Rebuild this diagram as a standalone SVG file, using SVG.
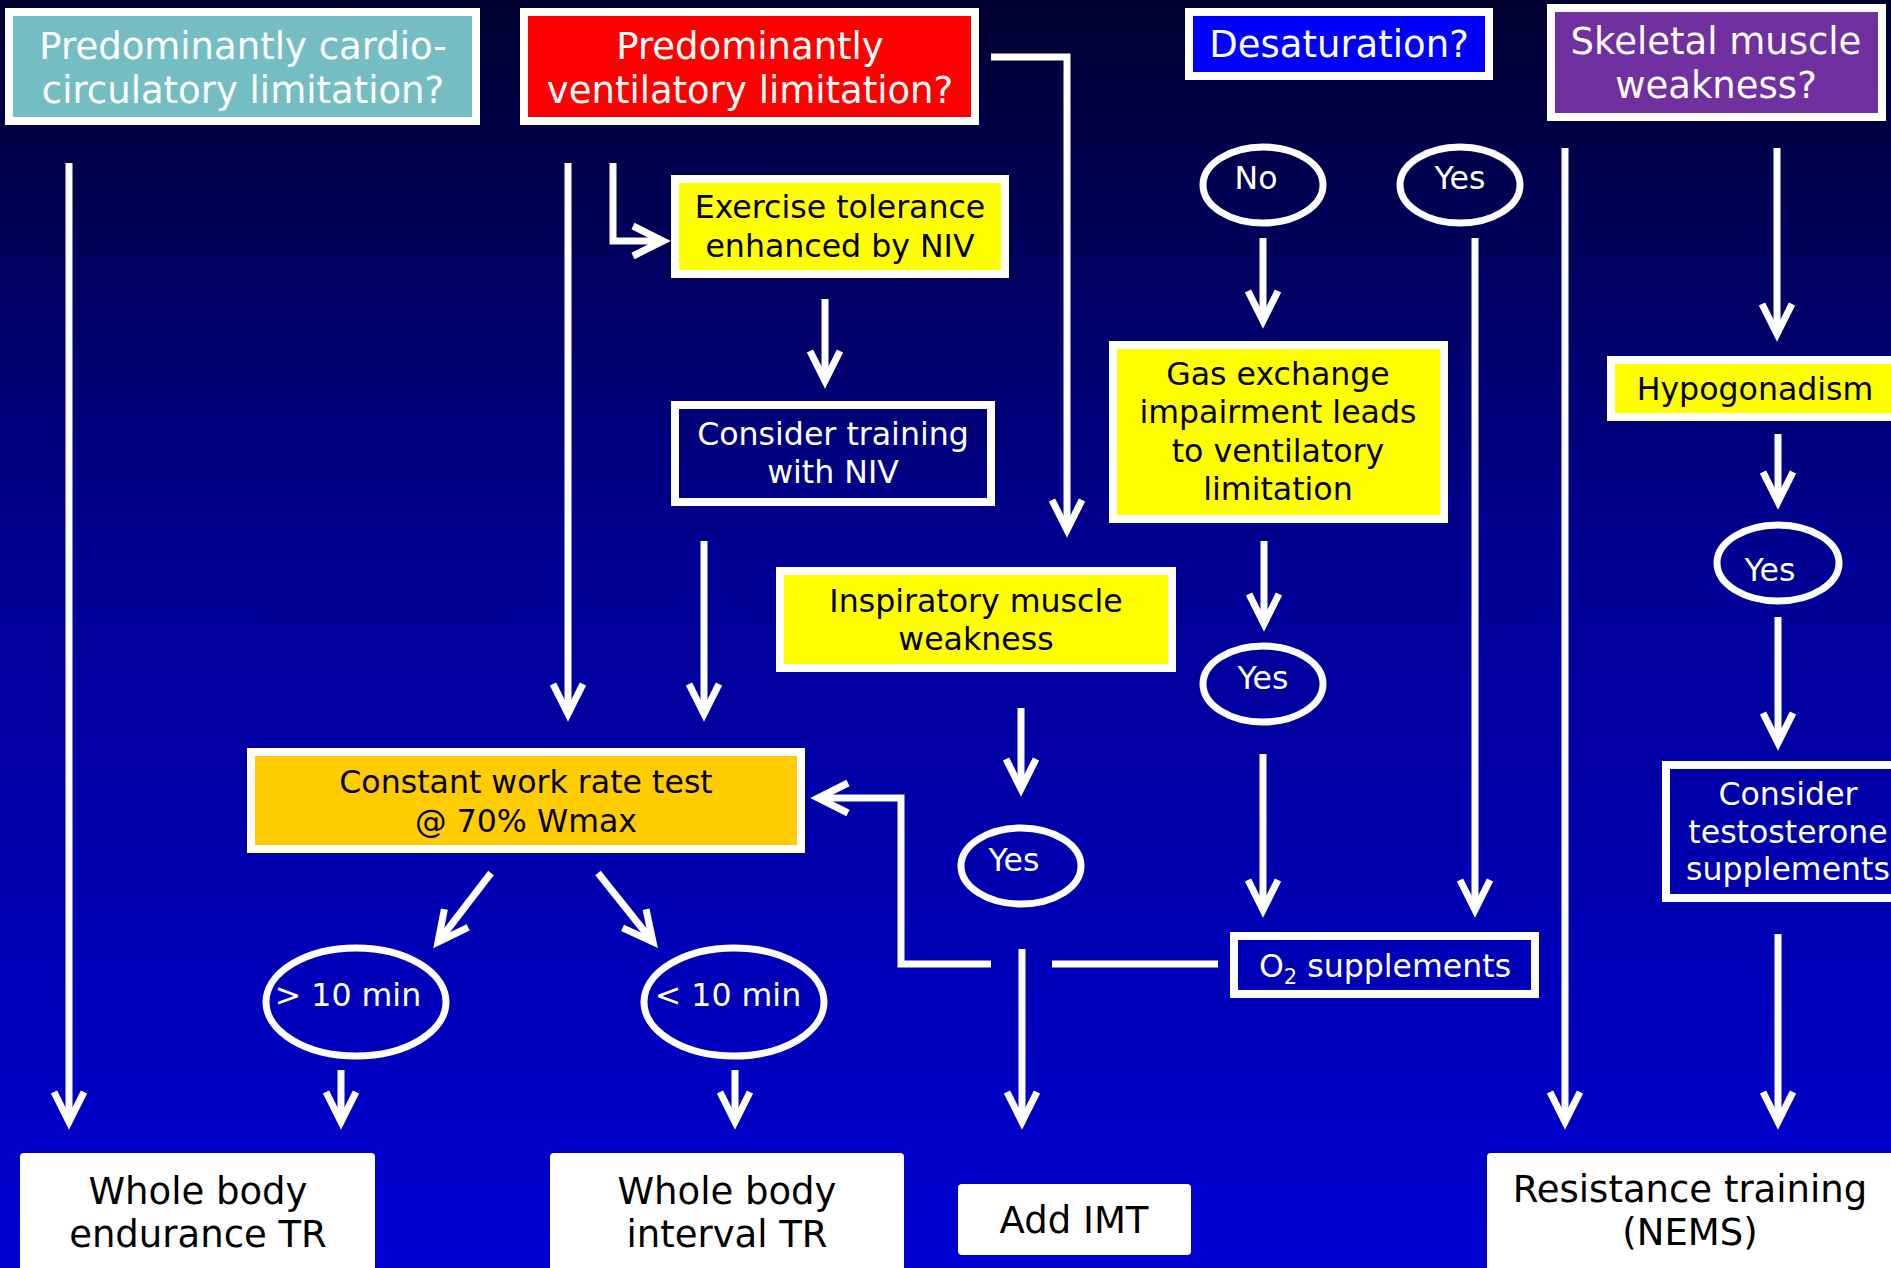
<svg xmlns="http://www.w3.org/2000/svg" width="1891" height="1268" viewBox="0 0 1891 1268">
<defs>
<linearGradient id="bg" x1="0" y1="0" x2="0" y2="1">
<stop offset="0" stop-color="#000030"/>
<stop offset="0.45" stop-color="#000095"/>
<stop offset="1" stop-color="#0000d2"/>
</linearGradient>
<marker id="ah" markerUnits="userSpaceOnUse" orient="auto" overflow="visible" markerWidth="40" markerHeight="40" refX="0" refY="0">
<path d="M-30,-15 L0,0 L-30,15" fill="none" stroke="#fff" stroke-width="7" stroke-linejoin="miter" stroke-miterlimit="10"/>
</marker>
<style>
.box{stroke:#fff;stroke-width:8}
.ell{fill:none;stroke:#fff;stroke-width:7}
.t{font-family:"DejaVu Sans",Verdana,sans-serif;text-anchor:middle}
.h{font-size:37px;fill:#fff}
.s{font-size:31.6px}
.w{fill:#fff}
.k{fill:#000}
.b{font-size:37px;fill:#000}
.c{fill:none;stroke:#fff;stroke-width:7}
.a{marker-end:url(#ah)}
</style>
</defs>
<rect x="0" y="0" width="1891" height="1268" fill="url(#bg)"/>

<g id="connectors">
<line class="c a" x1="69" y1="163" x2="69" y2="1122"/>
<line class="c a" x1="568" y1="163" x2="568" y2="714"/>
<path class="c a" d="M613,163 V241 H663"/>
<path class="c a" d="M991,57 H1067 V530"/>
<line class="c a" x1="825" y1="299" x2="825" y2="381"/>
<line class="c a" x1="704" y1="541" x2="704" y2="714"/>
<line class="c a" x1="1021" y1="708" x2="1021" y2="789"/>
<line class="c a" x1="1022" y1="949" x2="1022" y2="1122"/>
<path class="c a" d="M1218,964 H1052 M991,964 H901 V798 H818"/>
<line class="c a" x1="1263" y1="238" x2="1263" y2="321"/>
<line class="c a" x1="1264" y1="541" x2="1264" y2="624"/>
<line class="c a" x1="1263" y1="754" x2="1263" y2="910"/>
<line class="c a" x1="1475" y1="238" x2="1475" y2="910"/>
<line class="c a" x1="1565" y1="148" x2="1565" y2="1122"/>
<line class="c a" x1="1777" y1="148" x2="1777" y2="334"/>
<line class="c a" x1="1778" y1="434" x2="1778" y2="502"/>
<line class="c a" x1="1778" y1="617" x2="1778" y2="743"/>
<line class="c a" x1="1778" y1="934" x2="1778" y2="1122"/>
<line class="c a" x1="491" y1="873" x2="438" y2="942"/>
<line class="c a" x1="598" y1="873" x2="653" y2="942"/>
<line class="c a" x1="341" y1="1070" x2="341" y2="1122"/>
<line class="c a" x1="735" y1="1070" x2="735" y2="1122"/>
</g>

<g id="n-cardio">
<rect class="box" x="9" y="12" width="467" height="109" fill="#74BEC3"/>
<text class="t h" x="243" y="59">Predominantly cardio-</text>
<text class="t h" x="243" y="103">circulatory limitation?</text>
</g>
<g id="n-vent">
<rect class="box" x="524" y="12" width="451" height="109" fill="#FF0000"/>
<text class="t h" x="750" y="59">Predominantly</text>
<text class="t h" x="750" y="103">ventilatory limitation?</text>
</g>
<g id="n-desat">
<rect class="box" x="1189" y="12" width="300" height="64" fill="#0000FF"/>
<text class="t h" x="1339" y="57">Desaturation?</text>
</g>
<g id="n-skeletal">
<rect class="box" x="1551" y="8" width="331" height="109" fill="#7030A0"/>
<text class="t h" x="1716" y="54">Skeletal muscle</text>
<text class="t h" x="1716" y="98">weakness?</text>
</g>
<g id="n-extol">
<rect class="box" x="675" y="179" width="330" height="95" fill="#FFFF00"/>
<text class="t s k" x="840" y="218">Exercise tolerance</text>
<text class="t s k" x="840" y="257">enhanced by NIV</text>
</g>
<g id="n-niv">
<rect class="box" x="675" y="405" width="316" height="97" fill="none"/>
<text class="t s w" x="833" y="445">Consider training</text>
<text class="t s w" x="833" y="483">with NIV</text>
</g>
<g id="n-no">
<ellipse class="ell" cx="1263" cy="185" rx="60" ry="38"/>
<text class="t s w" x="1256" y="189">No</text>
</g>
<g id="n-yes1">
<ellipse class="ell" cx="1460" cy="185" rx="60" ry="38"/>
<text class="t s w" x="1460" y="189">Yes</text>
</g>
<g id="n-gas">
<rect class="box" x="1113" y="345" width="331" height="174" fill="#FFFF00"/>
<text class="t s k" x="1278" y="385">Gas exchange</text>
<text class="t s k" x="1278" y="423">impairment leads</text>
<text class="t s k" x="1278" y="462">to ventilatory</text>
<text class="t s k" x="1278" y="500">limitation</text>
</g>
<g id="n-insp">
<rect class="box" x="780" y="571" width="392" height="97" fill="#FFFF00"/>
<text class="t s k" x="976" y="612">Inspiratory muscle</text>
<text class="t s k" x="976" y="650">weakness</text>
</g>
<g id="n-yes2">
<ellipse class="ell" cx="1263" cy="684" rx="60" ry="38"/>
<text class="t s w" x="1263" y="689">Yes</text>
</g>
<g id="n-yes3">
<ellipse class="ell" cx="1021" cy="866" rx="60" ry="38"/>
<text class="t s w" x="1014" y="871">Yes</text>
</g>
<g id="n-hypo">
<rect class="box" x="1611" y="360" width="292" height="57" fill="#FFFF00"/>
<text class="t s k" x="1755" y="400">Hypogonadism</text>
</g>
<g id="n-yes4">
<ellipse class="ell" cx="1778" cy="563" rx="61" ry="38"/>
<text class="t s w" x="1770" y="581">Yes</text>
</g>
<g id="n-testo">
<rect class="box" x="1666" y="765" width="246" height="133" fill="none"/>
<text class="t s w" x="1788" y="805">Consider</text>
<text class="t s w" x="1788" y="843">testosterone</text>
<text class="t s w" x="1788" y="880">supplements</text>
</g>
<g id="n-const">
<rect class="box" x="251" y="752" width="550" height="97" fill="#FFCC00"/>
<text class="t s k" x="526" y="793">Constant work rate test</text>
<text class="t s k" x="526" y="832">@ 70% Wmax</text>
</g>
<g id="n-o2">
<rect class="box" x="1234" y="936" width="301" height="58" fill="none"/>
<text class="t s w" x="1385" y="977">O<tspan font-size="21" dy="7">2</tspan><tspan dy="-7"> supplements</tspan></text>
</g>
<g id="n-gt10">
<ellipse class="ell" cx="356" cy="1002" rx="90" ry="54"/>
<text class="t s w" x="348" y="1006">&gt; 10 min</text>
</g>
<g id="n-lt10">
<ellipse class="ell" cx="734" cy="1002" rx="90" ry="54"/>
<text class="t s w" x="728" y="1006">&lt; 10 min</text>
</g>
<g id="n-endur">
<rect x="20" y="1153" width="355" height="140" rx="4" fill="#fff"/>
<text class="t b" x="198" y="1204">Whole body</text>
<text class="t b" x="198" y="1247">endurance TR</text>
</g>
<g id="n-interval">
<rect x="550" y="1153" width="354" height="140" rx="4" fill="#fff"/>
<text class="t b" x="727" y="1204">Whole body</text>
<text class="t b" x="727" y="1247">interval TR</text>
</g>
<g id="n-imt">
<rect x="958" y="1184" width="233" height="71" rx="4" fill="#fff"/>
<text class="t b" x="1074" y="1233">Add IMT</text>
</g>
<g id="n-resist">
<rect x="1487" y="1153" width="420" height="140" rx="4" fill="#fff"/>
<text class="t b" x="1690" y="1202">Resistance training</text>
<text class="t b" x="1690" y="1245">(NEMS)</text>
</g>
</svg>
